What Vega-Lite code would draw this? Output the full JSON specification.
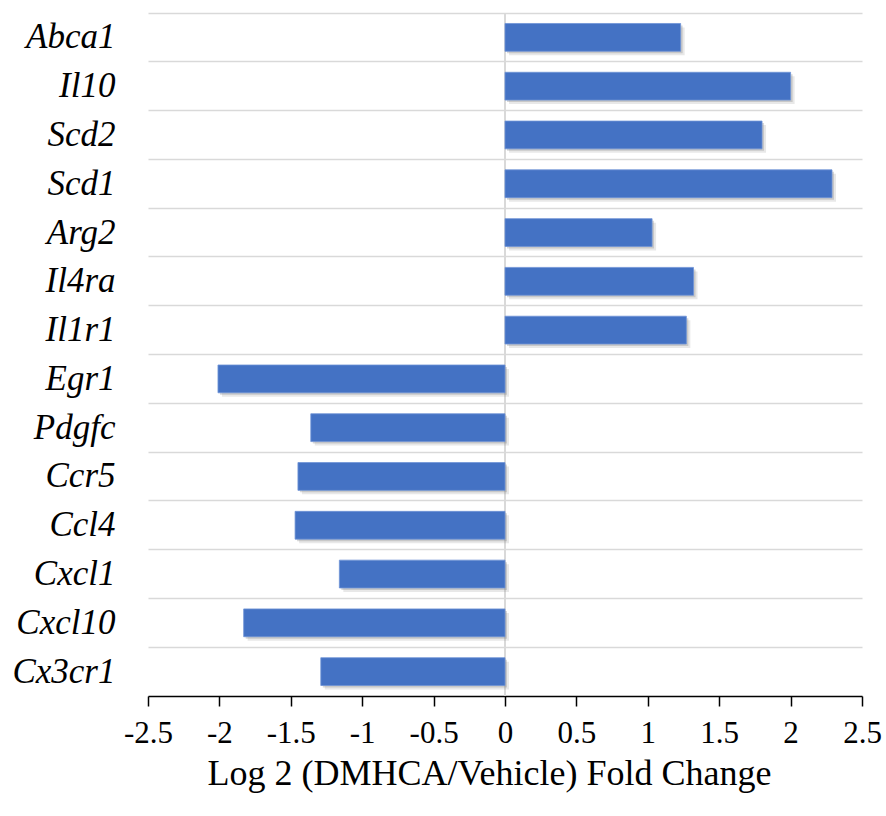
{
  "$schema": "https://vega.github.io/schema/vega-lite/v6.json",
  "autosize": {"type": "none"},
  "width": 714,
  "height": 683,
  "padding": {"left": 148, "top": 13, "right": 24, "bottom": 120},
  "background": "white",
  "config": {
    "view": {"stroke": null},
    "font": "Liberation Serif"
  },
  "data": {
    "values": [
      {"gene": "Abca1", "lfc": 1.23},
      {"gene": "Il10", "lfc": 2.0},
      {"gene": "Scd2", "lfc": 1.8},
      {"gene": "Scd1", "lfc": 2.29},
      {"gene": "Arg2", "lfc": 1.03},
      {"gene": "Il4ra", "lfc": 1.32},
      {"gene": "Il1r1", "lfc": 1.27},
      {"gene": "Egr1", "lfc": -2.01},
      {"gene": "Pdgfc", "lfc": -1.36},
      {"gene": "Ccr5", "lfc": -1.45},
      {"gene": "Ccl4", "lfc": -1.47},
      {"gene": "Cxcl1", "lfc": -1.16},
      {"gene": "Cxcl10", "lfc": -1.83},
      {"gene": "Cx3cr1", "lfc": -1.29}
    ]
  },
  "encoding": {
    "y": {
      "field": "gene",
      "type": "nominal",
      "sort": null,
      "scale": {"paddingInner": 0, "paddingOuter": 0},
      "axis": {
        "title": null,
        "domain": false,
        "ticks": false,
        "grid": true,
        "gridColor": "#d9d9d9",
        "gridWidth": 1.5,
        "bandPosition": 0,
        "labelFont": "Liberation Serif",
        "labelFontStyle": "italic",
        "labelFontSize": 35,
        "labelColor": "black",
        "labelPadding": 33
      }
    },
    "x": {
      "field": "lfc",
      "type": "quantitative",
      "scale": {"domain": [-2.5, 2.5], "nice": false, "zero": false},
      "axis": {
        "title": "Log 2 (DMHCA/Vehicle) Fold Change",
        "values": [-2.5, -2, -1.5, -1, -0.5, 0, 0.5, 1, 1.5, 2, 2.5],
        "labelExpr": "'' + datum.value",
        "grid": false,
        "domainColor": "black",
        "domainWidth": 1.5,
        "tickColor": "black",
        "tickWidth": 1.5,
        "tickSize": 10,
        "labelFont": "Liberation Serif",
        "labelFontSize": 31,
        "labelColor": "black",
        "labelPadding": 12,
        "labelFlush": false,
        "titleFont": "Liberation Serif",
        "titleFontSize": 36,
        "titleFontWeight": "normal",
        "titleColor": "black",
        "titlePadding": 8,
        "titleX": 341,
        "titleAlign": "center"
      }
    }
  },
  "layer": [
    {
      "mark": {"type": "rule", "color": "#d9d9d9", "strokeWidth": 1.5},
      "encoding": {"x": {"datum": 0}, "y": null}
    },
    {
      "mark": {"type": "bar", "height": {"band": 0.57}, "color": "#7f7f7f", "opacity": 0.18, "xOffset": 4, "yOffset": 4}
    },
    {
      "mark": {"type": "bar", "height": {"band": 0.57}, "color": "#7f7f7f", "opacity": 0.3, "xOffset": 2, "yOffset": 2}
    },
    {
      "mark": {"type": "bar", "height": {"band": 0.57}, "color": "#4472C4", "stroke": "#6f93d6", "strokeWidth": 0.8}
    }
  ]
}
